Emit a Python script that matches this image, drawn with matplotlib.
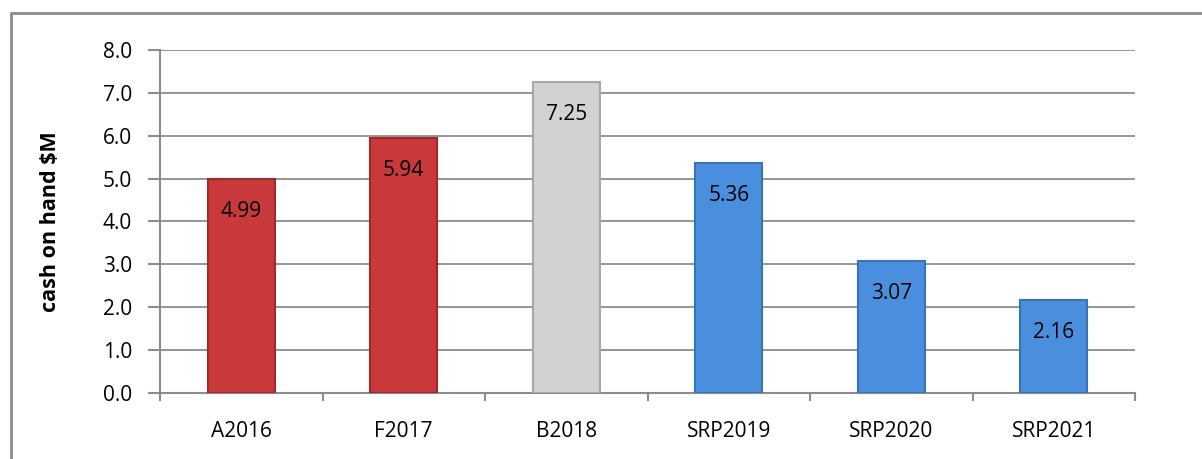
import matplotlib.pyplot as plt
from matplotlib.patches import Rectangle

# chart data
categories = ['A2016', 'F2017', 'B2018', 'SRP2019', 'SRP2020', 'SRP2021']
cash = [4.99, 5.94, 7.25, 5.36, 3.07, 2.16]
colors = ['#C9383A', '#C9383A', '#D2D2D2', '#4A8FDE', '#4A8FDE', '#4A8FDE']
edges = ['#9E2A2C', '#9E2A2C', '#A8A8A8', '#3A72B8', '#3A72B8', '#3A72B8']

plt.rcParams['font.family'] = ['Open Sans', 'DejaVu Sans']

fig = plt.figure(figsize=(12.02, 4.59), dpi=100)
# outer frame of the chart area
fig.patches.append(Rectangle((11 / 1202, -0.05), 1.2, 1 - 13 / 459 + 0.05,
                             transform=fig.transFigure, fill=False,
                             edgecolor='#8C8C8C', linewidth=2))

ax = fig.add_axes([160 / 1202, 1 - 393 / 459, (1135 - 160) / 1202, (393 - 50) / 459])

x = range(len(categories))
ax.bar(x, cash, width=0.41, color=colors, edgecolor=edges, linewidth=1.5, zorder=3)

for i, v in enumerate(cash):
    ax.text(i, v - 0.76, f'{v:.2f}', ha='center', va='center', fontsize=15, color='black', zorder=4)

ax.set_xlim(-0.5, len(categories) - 0.5)
ax.set_ylim(0, 8)
ax.set_yticks([i * 1.0 for i in range(9)])
ax.set_yticklabels([f'{i:.1f}' for i in range(9)], fontsize=15)
ax.set_xticks(list(x))
ax.set_xticklabels(categories, fontsize=15)
ax.tick_params(axis='x', length=0, pad=20)
ax.set_xticks([i - 0.5 for i in range(len(categories) + 1)], minor=True)
ax.tick_params(axis='x', which='minor', length=6, width=1.5, color='#8C8C8C')
ax.tick_params(axis='y', length=9, width=1.5, color='#8C8C8C', pad=11)

ax.grid(axis='y', color='#8C8C8C', linewidth=1.3, zorder=0)
for side in ['top', 'right']:
    ax.spines[side].set_visible(False)
for side in ['left', 'bottom']:
    ax.spines[side].set_color('#8C8C8C')
    ax.spines[side].set_linewidth(1.5)

ax.set_ylabel('cash on hand $M', fontsize=15.5, fontweight='bold', labelpad=30)

fig.savefig('out.png', dpi=100)
